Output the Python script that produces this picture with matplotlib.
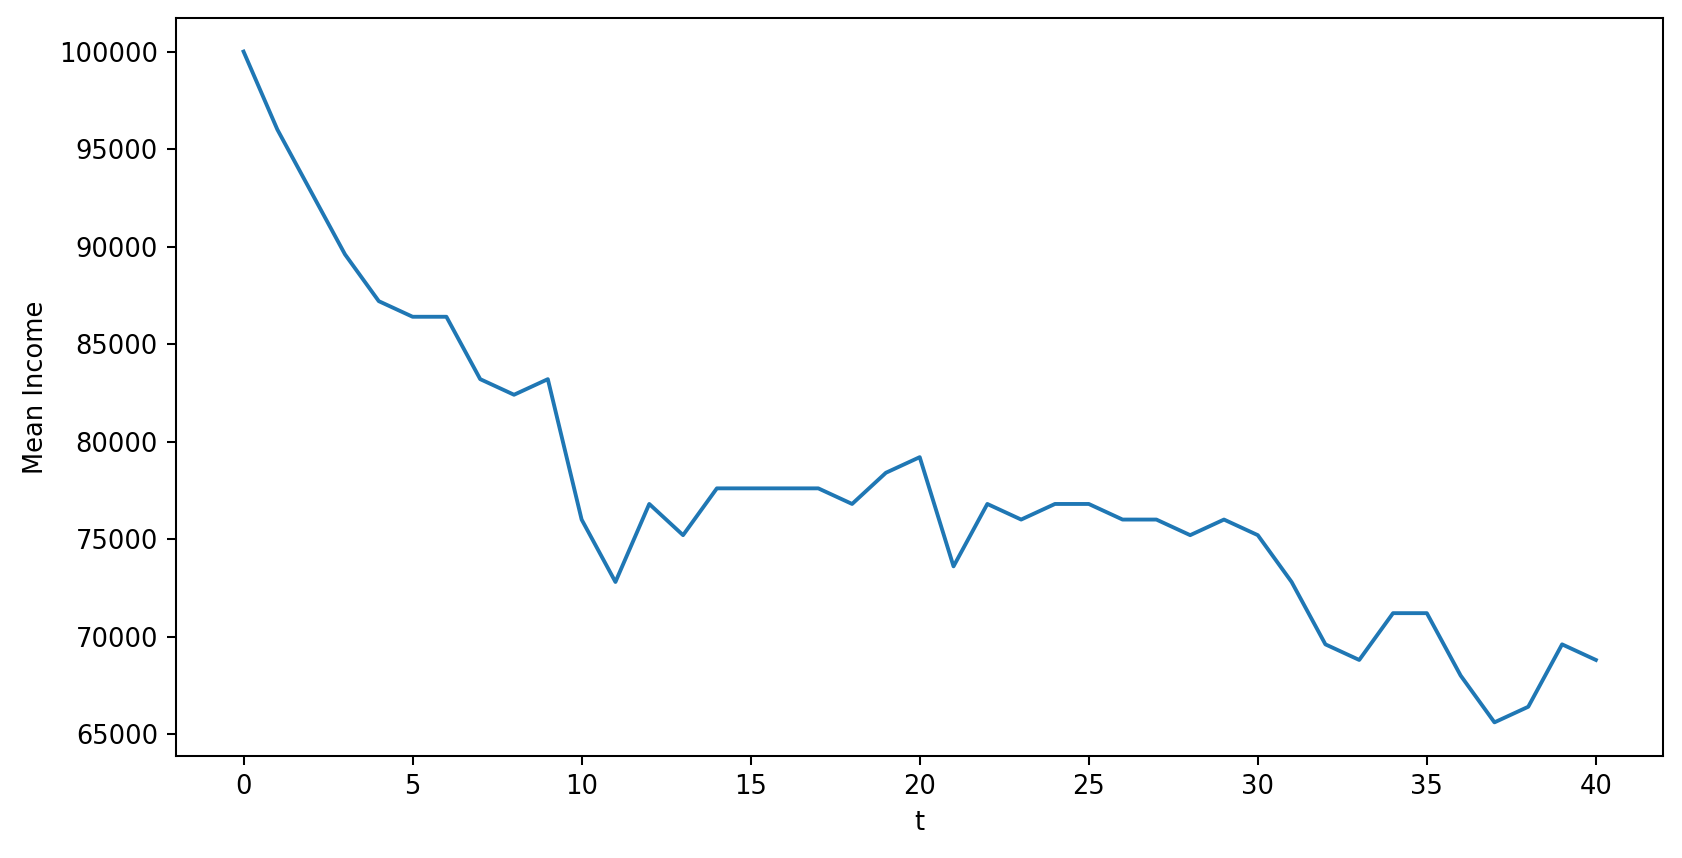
import matplotlib
matplotlib.use("Agg")
import matplotlib.pyplot as plt

# time steps and mean income
t = list(range(41))
mean_income = [100000, 96000, 92800, 89600, 87200, 86400, 86400, 83200, 82400, 83200,
               76000, 72800, 76800, 75200, 77600, 77600, 77600, 77600, 76800, 78400,
               79200, 73600, 76800, 76000, 76800, 76800, 76000, 76000, 75200, 76000,
               75200, 72800, 69600, 68800, 71200, 71200, 68000, 65600, 66400, 69600,
               68800]

dpi = 185
fig = plt.figure(figsize=(1682 / dpi, 858 / dpi), dpi=dpi)
ax = fig.add_axes([0.1046, 0.119, 0.8844, 0.86])
ax.plot(t, mean_income)
ax.set_xlabel('t')
ax.set_ylabel('Mean Income')
fig.savefig('out.png', dpi=dpi)
